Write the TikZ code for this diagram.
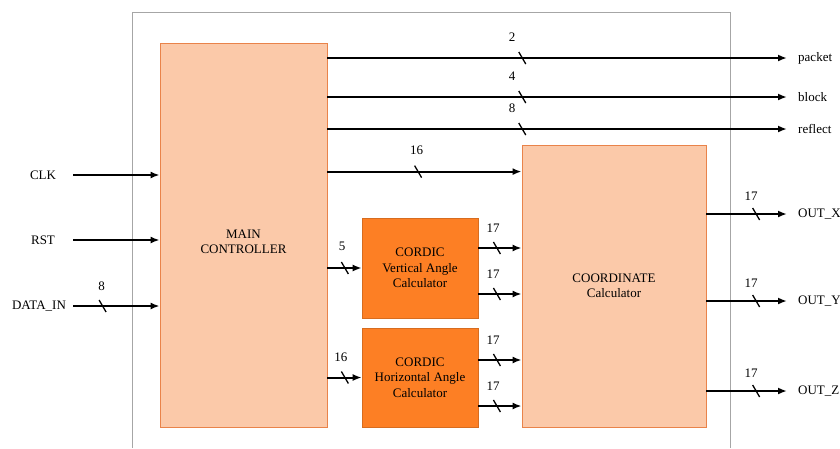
\documentclass[tikz,border=0pt]{standalone}
\usepackage{fontspec}
\setmainfont{Liberation Serif}
\usepackage{tikz}
\usetikzlibrary{positioning,arrows.meta,decorations.markings}
\definecolor{peach}{HTML}{FBC9A9}
\definecolor{peachline}{HTML}{E9834A}
\definecolor{cordic}{HTML}{FD7F24}
\definecolor{framegray}{HTML}{A6A6A6}

\begin{document}
\begin{tikzpicture}[x=1pt, y=-1pt,
    LB/.style={rectangle, draw=peachline, fill=peach, line width=0.8pt,
      font=\fontsize{13}{15.5}\selectfont, align=center, inner sep=2pt},
    CB/.style={rectangle, draw=cordic!85!black, fill=cordic, line width=0.6pt,
      font=\fontsize{13}{15.5}\selectfont, align=center, inner sep=2pt,
      minimum width=116pt},
    IN/.style={font=\fontsize{13}{15.5}\selectfont, minimum width=60pt, inner sep=0pt},
    OUT/.style={font=\fontsize{13}{15.5}\selectfont, anchor=west,
      inner xsep=11pt, inner ysep=0pt},
    NUM/.style={font=\fontsize{13}{15.5}\selectfont, inner sep=1pt},
    arr/.style={-{Latex[length=9pt,width=7pt]}, line width=2pt},
    bus/.style={arr, postaction={decorate}, decoration={markings,
      mark=at position #1 with {\draw[-, line width=1.3pt] (-3.5,-6) -- (3.5,6);}}}
  ]
    \useasboundingbox (0,0) rectangle (840,448);

    %% outer frame (open at the bottom)
    \draw[framegray, line width=1pt] (132,448) -- (132,12) -- (730,12) -- (730,448);

    %% blocks
    \node[LB, minimum width=167pt, minimum height=384pt] (mc) at (243.5,235) {\rule{0pt}{22pt}MAIN\\CONTROLLER};
    \node[CB, minimum height=100pt] (cv) at (420,268) {CORDIC\\Vertical Angle\\Calculator};
    \node[CB, minimum height=99pt] (ch) at (420,377.5) {CORDIC\\Horizontal Angle\\Calculator};
    \node[LB, minimum width=184pt, minimum height=282pt] (cc) at (614,286) {COORDINATE\\Calculator};

    %% ports (left)
    \node[IN] (clk) at (43,175) {CLK};
    \node[IN] (rst) at (43,240) {RST};
    \node[IN, minimum width=68pt] (din) at (39,306) {DATA\_IN};

    %% ports (right)
    \node[OUT] (pk) at (787,58) {packet};
    \node[OUT] (bk) at (787,97) {block};
    \node[OUT] (rf) at (787,129) {reflect};
    \node[OUT] (ox) at (787,214) {OUT\_X};
    \node[OUT] (oy) at (787,301) {OUT\_Y};
    \node[OUT] (oz) at (787,391) {OUT\_Z};

    \coordinate (c16) at ([yshift=-27pt]cc.north west);

    %% inputs
    \draw[arr] (clk.east) -- (clk.east -| mc.west);
    \draw[arr] (rst.east) -- (rst.east -| mc.west);
    \draw[bus=0.34] (din.east) -- (din.east -| mc.west) node[NUM, pos=0.33, yshift=20pt] {8};

    %% controller outputs
    \draw[bus=0.424] (mc.east |- pk.west) -- (pk.west) node[NUM, pos=0.402, yshift=21pt] {2};
    \draw[bus=0.424] (mc.east |- bk.west) -- (bk.west) node[NUM, pos=0.402, yshift=21pt] {4};
    \draw[bus=0.424] (mc.east |- rf.west) -- (rf.west) node[NUM, pos=0.402, yshift=21pt] {8};
    \draw[bus=0.467] (mc.east |- c16) -- (c16) node[NUM, pos=0.46, yshift=21pt] {16};
    \draw[bus=0.51] (mc.east |- cv.west) -- (cv.west) node[NUM, pos=0.43, yshift=22pt] {5};
    \draw[bus=0.51] (mc.east |- ch.west) -- (ch.west) node[NUM, pos=0.39, yshift=20pt] {16};

    %% CORDIC -> COORDINATE
    \draw[bus=0.43] ([yshift=20pt]cv.east) -- ([yshift=20pt]cv.east -| cc.west) node[NUM, pos=0.34, yshift=20pt] {17};
    \draw[bus=0.43] ([yshift=-26pt]cv.east) -- ([yshift=-26pt]cv.east -| cc.west) node[NUM, pos=0.34, yshift=20pt] {17};
    \draw[bus=0.43] ([yshift=17.5pt]ch.east) -- ([yshift=17.5pt]ch.east -| cc.west) node[NUM, pos=0.34, yshift=20pt] {17};
    \draw[bus=0.43] ([yshift=-28.5pt]ch.east) -- ([yshift=-28.5pt]ch.east -| cc.west) node[NUM, pos=0.34, yshift=20pt] {17};

    %% outputs
    \draw[bus=0.617] (cc.east |- ox.west) -- (ox.west) node[NUM, pos=0.556, yshift=18pt] {17};
    \draw[bus=0.617] (cc.east |- oy.west) -- (oy.west) node[NUM, pos=0.556, yshift=18pt] {17};
    \draw[bus=0.617] (cc.east |- oz.west) -- (oz.west) node[NUM, pos=0.556, yshift=18pt] {17};
  \end{tikzpicture}
\end{document}
